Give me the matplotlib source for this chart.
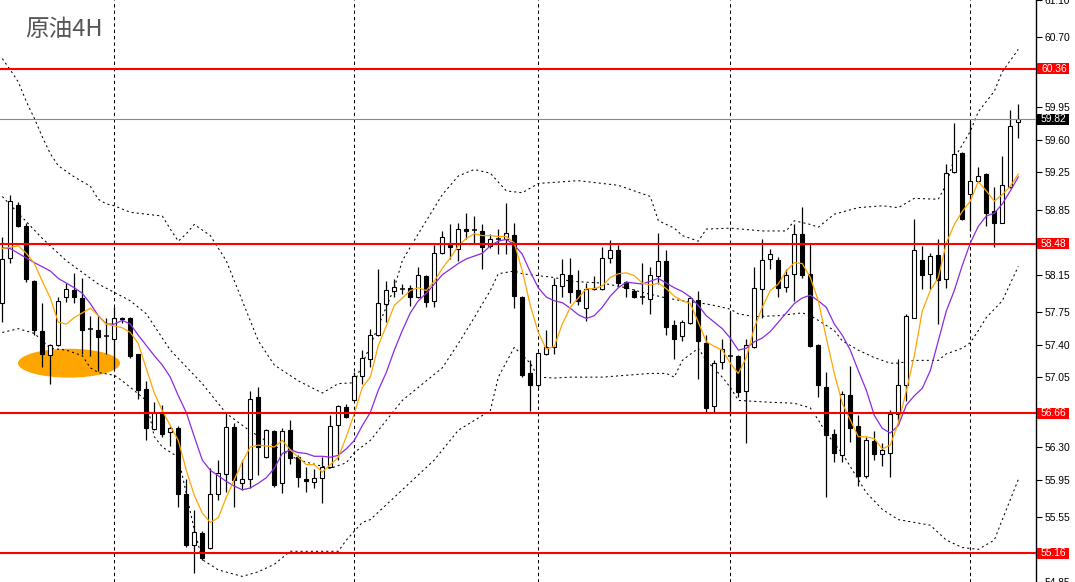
import matplotlib
matplotlib.use('Agg')
import matplotlib.pyplot as plt
import matplotlib.transforms as mtransforms
from matplotlib.patches import Ellipse, Rectangle

plt.rcParams['lines.scale_dashes'] = False

# ---------------- data (4H crude oil candles) ----------------
opens = [57.85, 58.33, 58.90, 58.67, 58.08, 57.55, 57.29, 57.40, 57.91, 57.99,
         57.90, 57.57, 57.56, 57.49, 57.46, 57.69, 57.69, 57.30, 56.92, 56.49,
         56.66, 56.46, 56.50, 55.80, 55.25, 55.38, 55.21, 55.80, 56.01, 56.51,
         55.91, 55.96, 56.84, 56.19, 56.47, 55.91, 56.48, 56.19, 55.96, 55.92,
         55.97, 56.08, 56.54, 56.73, 56.80, 57.06, 57.25, 57.50, 57.84, 57.98,
         58.00, 58.01, 57.91, 58.14, 57.87, 58.38, 58.48, 58.43, 58.64, 58.63,
         58.62, 58.46, 58.53, 58.53, 58.58, 57.91, 57.09, 56.97, 57.30, 57.37,
         58.03, 58.15, 57.99, 57.79, 58.00, 58.00, 58.33, 58.42, 58.07, 57.97,
         57.91, 57.89, 58.14, 58.30, 57.61, 57.49, 57.63, 57.88, 57.42, 56.74,
         57.21, 57.28, 57.28, 56.90, 57.37, 58.00, 58.32, 58.31, 58.02, 58.16,
         58.59, 58.16, 57.40, 56.94, 56.44, 56.21, 56.86, 56.52, 55.99, 56.36,
         56.22, 56.24, 56.65, 56.97, 57.69, 58.31, 58.16, 58.36, 58.10, 59.25,
         59.46, 59.02, 59.16, 59.23, 58.83, 58.71, 59.09, 59.79]
highs = [58.55, 59.01, 58.93, 58.70, 58.09, 57.85, 57.41, 57.91, 58.06, 58.17,
         58.11, 57.71, 57.71, 57.69, 57.80, 57.70, 57.70, 57.30, 57.01, 56.78,
         56.75, 56.53, 56.52, 55.96, 55.62, 55.40, 56.07, 56.16, 56.66, 56.56,
         56.16, 56.90, 56.94, 56.49, 56.48, 56.50, 56.59, 56.21, 56.08, 56.06,
         56.19, 56.64, 56.75, 56.76, 57.10, 57.34, 57.57, 58.21, 58.08, 58.10,
         58.05, 58.04, 58.23, 58.15, 58.47, 58.62, 58.69, 58.70, 58.81, 58.78,
         58.69, 58.59, 58.64, 58.92, 58.70, 57.92, 57.23, 57.32, 57.56, 58.11,
         58.32, 58.33, 58.20, 58.06, 58.14, 58.45, 58.52, 58.47, 58.08, 58.00,
         58.28, 58.23, 58.60, 58.42, 57.66, 57.66, 57.92, 57.97, 57.50, 57.23,
         57.46, 57.75, 57.29, 57.46, 58.23, 58.53, 58.43, 58.34, 58.21, 58.69,
         58.88, 58.48, 57.41, 57.10, 56.49, 56.90, 57.17, 56.64, 56.41, 56.47,
         56.34, 56.70, 57.24, 57.73, 58.75, 58.46, 58.38, 58.53, 59.34, 59.78,
         59.47, 59.80, 59.31, 59.24, 59.09, 59.43, 59.92, 59.98]
lows = [57.64, 58.28, 58.66, 58.07, 57.50, 57.16, 56.98, 57.38, 57.86, 57.85,
        57.30, 57.28, 57.12, 57.30, 57.14, 57.63, 57.26, 56.82, 56.37, 56.48,
        56.41, 56.31, 55.66, 55.23, 54.95, 55.09, 55.20, 55.73, 55.82, 55.66,
        55.84, 55.86, 56.00, 56.18, 55.87, 55.81, 56.12, 55.87, 55.82, 55.86,
        55.70, 56.07, 56.16, 56.61, 56.79, 56.98, 57.16, 57.49, 57.64, 57.91,
        57.94, 57.81, 57.90, 57.80, 57.80, 58.37, 58.32, 58.30, 58.53, 58.48,
        58.21, 58.44, 58.37, 58.37, 57.79, 57.05, 56.69, 56.94, 57.29, 57.30,
        57.91, 57.85, 57.82, 57.65, 57.99, 57.99, 58.28, 58.03, 57.91, 57.90,
        57.84, 57.73, 58.05, 57.50, 57.25, 57.44, 57.62, 57.03, 56.66, 56.66,
        57.14, 56.64, 56.84, 56.34, 57.36, 57.69, 58.21, 57.91, 57.96, 57.87,
        58.11, 57.37, 56.84, 55.76, 56.14, 56.14, 56.35, 55.88, 55.97, 56.16,
        56.10, 55.98, 56.58, 56.79, 57.68, 58.00, 58.00, 57.62, 58.01, 59.24,
        58.74, 58.62, 59.15, 58.67, 58.45, 58.70, 59.08, 59.62]
closes = [58.32, 58.94, 58.67, 58.10, 57.56, 57.30, 57.40, 57.87, 58.00, 57.91,
          57.56, 57.57, 57.48, 57.49, 57.69, 57.67, 57.28, 56.91, 56.50, 56.67,
          56.44, 56.50, 55.80, 55.25, 55.39, 55.11, 55.80, 56.02, 56.51, 55.95,
          55.96, 56.81, 56.30, 56.48, 55.89, 56.47, 56.18, 55.98, 55.93, 55.97,
          56.08, 56.53, 56.74, 56.62, 57.06, 57.26, 57.50, 57.85, 57.99, 58.02,
          58.00, 57.91, 58.15, 57.86, 58.38, 58.55, 58.45, 58.64, 58.62, 58.63,
          58.45, 58.53, 58.53, 58.60, 57.92, 57.07, 56.97, 57.31, 57.37, 58.04,
          58.16, 57.96, 57.87, 58.00, 58.01, 58.33, 58.42, 58.06, 58.01, 57.91,
          57.91, 58.15, 58.30, 57.59, 57.46, 57.64, 57.90, 57.44, 56.72, 57.20,
          57.35, 57.28, 56.89, 57.40, 58.01, 58.31, 58.37, 58.01, 58.15, 58.59,
          58.15, 57.38, 56.97, 56.43, 56.23, 56.87, 56.50, 55.99, 56.37, 56.22,
          56.27, 56.65, 56.97, 57.71, 58.41, 58.15, 58.35, 58.09, 59.24, 59.45,
          58.75, 59.16, 59.21, 58.81, 58.71, 59.11, 59.75, 59.82]

# fast MA (orange) read at bar indices
ma_fast_idx = [0, 2, 3, 4, 5, 6, 7, 8, 9, 10, 11, 12, 13, 14, 15, 16, 17, 18, 19, 20,
               21, 22, 23, 24, 25, 26, 27, 28, 29, 30, 31, 32, 34, 35, 36, 37, 38, 39, 40, 41,
               42, 43, 44, 45, 46, 47, 48, 49, 50, 51, 52, 53, 54, 55, 56, 57, 58, 59, 60, 61,
               62, 63, 64, 65, 66, 67, 68, 69, 70, 71, 72, 73, 74, 75, 76, 77, 78, 79, 80, 81,
               82, 83, 84, 85, 86, 87, 88, 89, 90, 91, 92, 93, 94, 95, 96, 97, 98, 99, 100, 101,
               102, 103, 104, 105, 106, 107, 108, 109, 110, 111, 112, 113, 114, 115, 116, 117, 118, 119, 120, 121,
               122, 123, 124, 125, 126, 127]
ma_fast = [58.43, 58.46, 58.38, 58.27, 58.08, 57.90, 57.64, 57.62, 57.69, 57.74, 57.79, 57.71, 57.62, 57.60, 57.58, 57.53, 57.41, 57.14, 56.88, 56.69,
           56.53, 56.37, 56.05, 55.78, 55.59, 55.49, 55.54, 55.76, 55.95, 56.14, 56.30, 56.32, 56.30, 56.37, 56.27, 56.19, 56.11, 56.11, 56.03, 56.11,
           56.19, 56.41, 56.66, 56.94, 57.05, 57.39, 57.60, 57.82, 57.90, 57.98, 58.01, 57.98, 58.08, 58.22, 58.33, 58.46, 58.54, 58.59, 58.57, 58.57,
           58.56, 58.56, 58.49, 58.19, 57.82, 57.53, 57.35, 57.38, 57.62, 57.80, 57.90, 58.00, 58.00, 58.03, 58.12, 58.16, 58.17, 58.14, 58.06, 58.04,
           58.06, 58.00, 57.92, 57.87, 57.84, 57.64, 57.43, 57.38, 57.34, 57.20, 57.09, 57.26, 57.58, 57.80, 57.98, 58.05, 58.19, 58.28, 58.27, 58.12,
           57.87, 57.47, 57.09, 56.77, 56.59, 56.41, 56.41, 56.39, 56.28, 56.32, 56.56, 56.90, 57.28, 57.76, 57.98, 58.12, 58.49, 58.69, 58.83, 58.94,
           59.15, 59.05, 58.94, 59.01, 59.10, 59.23]

# slow MA (purple) read at bar indices
ma_slow_idx = [0, 1, 2, 3, 4, 6, 7, 9, 10, 11, 12, 13, 14, 15, 16, 17, 18, 19, 20, 21,
               22, 23, 24, 25, 26, 27, 28, 29, 30, 31, 32, 33, 34, 35, 36, 37, 38, 39, 40, 41,
               42, 43, 44, 45, 46, 47, 48, 49, 50, 51, 52, 53, 54, 55, 56, 57, 58, 59, 60, 61,
               62, 63, 64, 65, 66, 67, 68, 69, 70, 71, 72, 73, 74, 75, 76, 77, 78, 79, 80, 81,
               82, 83, 84, 85, 86, 87, 88, 89, 90, 91, 92, 93, 94, 95, 96, 97, 98, 99, 100, 101,
               102, 103, 104, 105, 106, 107, 108, 109, 110, 111, 112, 113, 114, 115, 116, 117, 118, 119, 120, 121,
               122, 123, 124, 125, 126, 127]
ma_slow = [58.44, 58.43, 58.38, 58.33, 58.28, 58.19, 58.11, 58.01, 57.95, 57.84, 57.71, 57.62, 57.62, 57.66, 57.62, 57.50, 57.39, 57.28, 57.18, 57.05,
           56.85, 56.67, 56.41, 56.16, 56.05, 55.99, 55.93, 55.88, 55.84, 55.86, 55.91, 55.97, 56.07, 56.23, 56.27, 56.24, 56.23, 56.20, 56.20, 56.19,
           56.21, 56.28, 56.37, 56.53, 56.67, 56.91, 57.10, 57.34, 57.55, 57.74, 57.87, 57.95, 58.05, 58.15, 58.21, 58.27, 58.32, 58.35, 58.38, 58.46,
           58.51, 58.53, 58.47, 58.37, 58.18, 58.01, 57.91, 57.87, 57.85, 57.79, 57.72, 57.68, 57.71, 57.80, 57.92, 58.01, 58.07, 58.06, 58.05, 58.08,
           58.11, 58.06, 58.01, 57.97, 57.91, 57.82, 57.71, 57.64, 57.57, 57.47, 57.34, 57.36, 57.43, 57.47, 57.54, 57.64, 57.74, 57.84, 57.90, 57.93,
           57.87, 57.80, 57.62, 57.50, 57.34, 57.12, 56.91, 56.64, 56.50, 56.45, 56.53, 56.75, 56.85, 56.93, 57.12, 57.44, 57.76, 57.98, 58.25, 58.49,
           58.67, 58.78, 58.81, 58.91, 59.05, 59.20]

# Bollinger bands (dotted) read at bar indices
bb_up_idx = [0, 1, 2, 3, 4, 5, 6, 7, 8, 9, 10, 11, 12, 13, 14, 16, 18, 20, 21, 22,
             23, 24, 26, 28, 30, 32, 34, 37, 40, 42, 44, 46, 49, 50, 52, 55, 57, 59, 61, 63,
             65, 67, 72, 77, 81, 82, 84, 85, 87, 88, 91, 95, 98, 99, 101, 102, 104, 107, 110, 112,
             114, 117, 118, 119, 121, 122, 124, 125, 127]
bb_up = [60.47, 60.35, 60.22, 60.01, 59.83, 59.63, 59.45, 59.32, 59.26, 59.20, 59.15, 59.10, 58.96, 58.91, 58.89, 58.82, 58.80, 58.78, 58.64, 58.51,
         58.59, 58.69, 58.57, 58.30, 57.87, 57.44, 57.18, 57.01, 56.88, 56.98, 56.99, 57.39, 58.01, 58.30, 58.59, 59.01, 59.21, 59.28, 59.24, 59.05,
         59.03, 59.13, 59.16, 59.11, 58.99, 58.73, 58.65, 58.57, 58.51, 58.64, 58.65, 58.62, 58.62, 58.73, 58.69, 58.66, 58.80, 58.87, 58.89, 58.87,
         58.97, 58.96, 59.12, 59.40, 59.69, 59.90, 60.12, 60.33, 60.57]
bb_mid_idx = [0, 2, 5, 8, 12, 16, 18, 21, 25, 28, 31, 35, 37, 41, 43, 44, 46, 50, 52, 55,
              57, 59, 61, 62, 64, 65, 67, 69, 71, 75, 78, 80, 83, 85, 87, 89, 91, 92, 94, 97,
              100, 101, 102, 104, 105, 107, 109, 111, 112, 114, 117, 118, 120, 121, 122, 123, 125, 127]
bb_mid = [58.99, 58.81, 58.54, 58.30, 58.05, 57.87, 57.73, 57.34, 56.98, 56.66, 56.47, 56.26, 56.16, 56.07, 56.13, 56.24, 56.37, 56.80, 56.94, 57.15,
          57.41, 57.69, 57.98, 58.16, 58.19, 58.16, 58.14, 58.12, 58.08, 58.06, 58.01, 57.96, 57.90, 57.87, 57.85, 57.82, 57.78, 57.73, 57.70, 57.71,
          57.74, 57.71, 57.66, 57.55, 57.44, 57.34, 57.26, 57.20, 57.20, 57.23, 57.23, 57.30, 57.36, 57.42, 57.55, 57.69, 57.87, 58.24]
bb_low_idx = [0, 2, 4, 6, 8, 10, 11, 12, 14, 15, 16, 18, 19, 20, 22, 24, 25, 27, 30, 32,
              34, 36, 42, 43, 45, 46, 50, 54, 57, 61, 62, 64, 66, 67, 69, 71, 75, 81, 83, 84,
              85, 87, 88, 90, 91, 92, 96, 99, 101, 102, 103, 105, 107, 108, 110, 112, 116, 118, 120, 122,
              124, 125, 127]
bb_low = [57.53, 57.57, 57.52, 57.36, 57.34, 57.28, 57.15, 57.10, 57.07, 57.01, 56.94, 56.80, 56.41, 56.30, 56.19, 55.41, 55.09, 54.98, 54.91, 54.96,
          55.04, 55.18, 55.18, 55.30, 55.49, 55.52, 55.84, 56.16, 56.48, 56.69, 57.05, 57.37, 57.20, 57.05, 57.04, 57.05, 57.05, 57.09, 57.09, 57.05,
          57.23, 57.36, 57.23, 57.05, 56.94, 56.80, 56.78, 56.77, 56.72, 56.59, 56.45, 56.23, 55.95, 55.81, 55.63, 55.52, 55.46, 55.30, 55.22, 55.20,
          55.30, 55.52, 55.95]

level_lines = [60.36, 58.48, 56.66, 55.16]
current_price = 59.82
separator_bars = [14, 44, 67, 91, 121]
tick_values = [61.10, 60.70, 60.35, 59.95, 59.60, 59.25, 58.85, 58.50, 58.15, 57.75,
               57.40, 57.05, 56.65, 56.30, 55.95, 55.55, 55.20, 54.85]
# labels hidden under the level boxes are left blank
tick_labels = ['61.10', '60.70', '', '59.95', '59.60', '59.25', '58.85', '', '58.15', '57.75',
               '57.40', '57.05', '', '56.30', '55.95', '55.55', '', '54.85']
title = '原油4H'

# ---------------- figure ----------------
W, H = 1075, 582
fig = plt.figure(figsize=(W / 100, H / 100), dpi=100)
fig.patch.set_facecolor('white')
ax_right_px = 1036
ax = fig.add_axes([0, 0, ax_right_px / W, 1])
ax.set_facecolor('white')

px_per_bar = 8.0
first_px = 2.3
ax.set_xlim(-first_px / px_per_bar, (ax_right_px - first_px) / px_per_bar)
ax.set_ylim(54.855, 61.079)

for s in ['left', 'top', 'bottom']:
    ax.spines[s].set_visible(False)
ax.spines['right'].set_color('black')
ax.spines['right'].set_linewidth(1.0)
ax.set_xticks([])
ax.yaxis.tick_right()
ax.set_yticks(tick_values)
ax.set_yticklabels(tick_labels)
ax.tick_params(axis='y', direction='out', length=4, width=0.8, pad=2,
               labelsize=7.4, colors='black')
for lab in ax.get_yticklabels():
    lab.set_family('Liberation Sans')

# highlight ellipse
ax.add_patch(Ellipse((8.34, 57.20), width=12.75, height=0.31,
                     facecolor='#FFA500', edgecolor='none', zorder=1))

# period separators
for b in separator_bars:
    ax.axvline(b, color='black', lw=0.75, ls=(0, (2.4, 2.2)), zorder=2)

# Bollinger bands
dot = (0, (1.5, 2.2))
for xs, ys in [(bb_up_idx, bb_up), (bb_mid_idx, bb_mid), (bb_low_idx, bb_low)]:
    ax.plot(xs, ys, color='black', lw=0.75, ls=dot, zorder=3)

# candles
bw = 0.52
for i, (o, h, l, c) in enumerate(zip(opens, highs, lows, closes)):
    ax.vlines(i, l, h, color='black', lw=0.9, zorder=4)
    if abs(c - o) < 0.006:
        ax.hlines(o, i - bw / 2 - 0.06, i + bw / 2 + 0.06, color='black', lw=1.1, zorder=5)
    else:
        fc = 'white' if c > o else 'black'
        ax.add_patch(Rectangle((i - bw / 2, min(o, c)), bw, abs(c - o),
                               facecolor=fc, edgecolor='black', lw=0.8, zorder=5))

# moving averages
ax.plot(ma_slow_idx, ma_slow, color='#8A2BE2', lw=0.9, zorder=6)
ax.plot(ma_fast_idx, ma_fast, color='#FFA500', lw=0.9, zorder=6)

# horizontal levels
for lv in level_lines:
    ax.axhline(lv, color='#FF0000', lw=1.5, zorder=7)
ax.axhline(current_price, color='#7F8A96', lw=0.8, zorder=6.5)

# price label boxes on the axis
blend = mtransforms.blended_transform_factory(fig.transFigure, ax.transData)
box_h = 11 * (61.079 - 54.855) / H
for val, fc in [(v, '#FF0000') for v in level_lines] + [(current_price, '#000000')]:
    fig.add_artist(Rectangle((1037 / W, val - box_h / 2), 32 / W, box_h,
                             transform=blend, facecolor=fc, edgecolor='none',
                             zorder=10, clip_on=False))
    fig.text(1041 / W, val, f'{val:.2f}', transform=blend, color='white',
             fontsize=7.4, family='Liberation Sans', va='center', ha='left', zorder=11)

# title
ax.text(25 / ax_right_px, 1 - 29 / H, title, transform=ax.transAxes,
        fontsize=17, color='#555555', va='center', ha='left',
        family=['Noto Sans CJK SC', 'DejaVu Sans'], zorder=12)

fig.savefig('out.png', dpi=100, facecolor='white')
